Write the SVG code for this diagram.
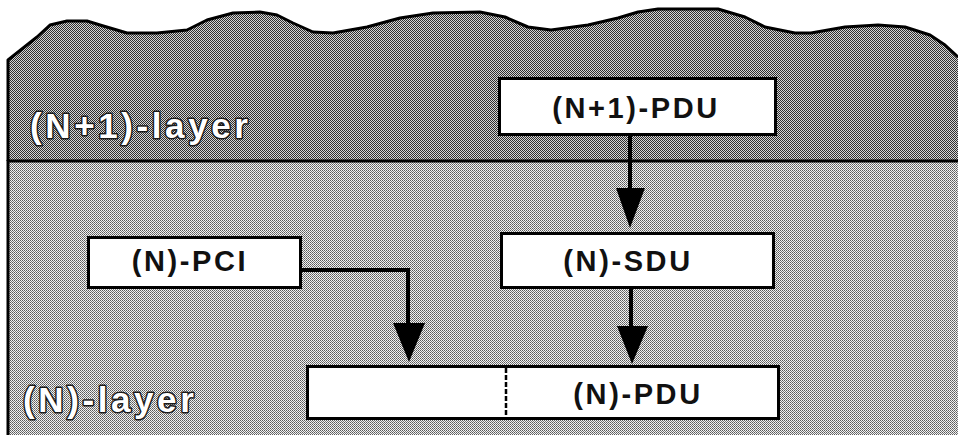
<svg xmlns="http://www.w3.org/2000/svg" width="958" height="435" viewBox="0 0 958 435">
<defs>
<pattern id="dark" width="2" height="2" patternUnits="userSpaceOnUse">
<rect width="2" height="2" fill="#d4d4d4"/>
<rect width="1" height="1" fill="#2e2e2e"/>
<rect x="1" y="1" width="1" height="1" fill="#2e2e2e"/>
</pattern>
<pattern id="light" width="2" height="2" patternUnits="userSpaceOnUse">
<rect width="2" height="2" fill="#f2f2f2"/>
<rect width="1" height="1" fill="#5a5a5a"/>
<rect x="1" y="1" width="1" height="1" fill="#7a7a7a"/>
</pattern>
</defs>
<style>
.box{fill:#fff;stroke:#000;stroke-width:3}
.lbl{font-family:"Liberation Sans",Arial,sans-serif;font-weight:bold;font-size:29px;letter-spacing:2.6px;fill:#111;text-anchor:middle}
.layer{font-family:"Liberation Sans",Arial,sans-serif;font-weight:bold;font-size:35px;letter-spacing:3.6px;fill:#fff;stroke:#1a1a1a;stroke-width:3;paint-order:stroke;stroke-linejoin:round}
.conn{fill:none;stroke:#000;stroke-width:4}
.head{fill:#000}
</style>
<rect width="958" height="435" fill="#fff"/>
<g id="layer-n1">
<path d="M8,161 L8,60 L37,37 L50,25 L67,21 L87,21 L100,25 L127,33 L157,33 L187,30 L207,20 L233,13 L260,12 L277,15 L293,23 L313,32 L333,33 L367,27 L400,18 L433,13 L480,12 L505,17 L528,27 L551,30 L588,25 L618,18 L638,12 L658,9 L718,9 L745,17 L765,27 L795,33 L811,33 L845,27 L878,25 L905,27 L930,35 L945,45 L958,57 L958,161 Z" fill="url(#dark)"/>
<path d="M8,161 L8,60 L37,37 L50,25 L67,21 L87,21 L100,25 L127,33 L157,33 L187,30 L207,20 L233,13 L260,12 L277,15 L293,23 L313,32 L333,33 L367,27 L400,18 L433,13 L480,12 L505,17 L528,27 L551,30 L588,25 L618,18 L638,12 L658,9 L718,9 L745,17 L765,27 L795,33 L811,33 L845,27 L878,25 L905,27 L930,35 L945,45 L958,57" fill="none" stroke="#000" stroke-width="3" stroke-linejoin="round"/>
<text class="layer" x="30" y="138">(N+1)-layer</text>
</g>
<g id="layer-n">
<rect x="8" y="161" width="950" height="274" fill="url(#light)"/>
<line x1="8" y1="161" x2="958" y2="161" stroke="#000" stroke-width="3"/>
<line x1="8" y1="160" x2="8" y2="435" stroke="#000" stroke-width="3"/>
<text class="layer" x="23" y="412">(N)-layer</text>
</g>
<g id="connectors">
<line class="conn" x1="630" y1="136" x2="630" y2="190"/>
<polygon class="head" points="616,188 645,188 630,228"/>
<line class="conn" x1="631" y1="289" x2="631" y2="328"/>
<polygon class="head" points="617,326 648,326 632,364"/>
<path class="conn" d="M302,270 H408 V325"/>
<polygon class="head" points="393,323 425,323 409,362"/>
</g>
<g id="n1-pdu">
<rect class="box" x="499.5" y="78.5" width="276" height="56"/>
<text class="lbl" x="636" y="118">(N+1)-PDU</text>
</g>
<g id="n-sdu">
<rect class="box" x="501.5" y="233.5" width="272" height="54"/>
<text class="lbl" x="628" y="271">(N)-SDU</text>
</g>
<g id="n-pci">
<rect class="box" x="88.5" y="237.5" width="212" height="50"/>
<text class="lbl" x="190" y="271">(N)-PCI</text>
</g>
<g id="n-pdu">
<rect class="box" x="307.5" y="366.5" width="471" height="52"/>
<line x1="506" y1="368" x2="506" y2="417" stroke="#000" stroke-width="2.5" stroke-dasharray="5,2"/>
<text class="lbl" x="638" y="404">(N)-PDU</text>
</g>
</svg>
